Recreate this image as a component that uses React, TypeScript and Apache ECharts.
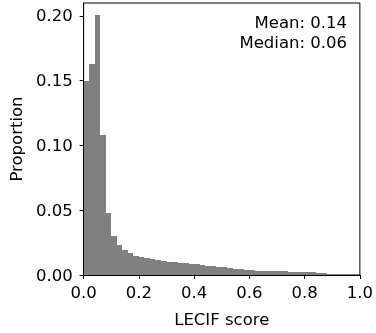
import React, { useEffect, useRef } from "react";
import * as echarts from "echarts";

const binWidth = 0.02;
const proportions = [
  0.1495, 0.163, 0.2008, 0.108, 0.048, 0.0302, 0.0233, 0.0192, 0.0167, 0.0149,
  0.0136, 0.0128, 0.0123, 0.0115, 0.011, 0.0103, 0.0098, 0.0094, 0.009, 0.0086,
  0.0082, 0.0077, 0.0072, 0.0067, 0.0062, 0.0058, 0.0054, 0.005, 0.0046, 0.0042,
  0.0037, 0.0034, 0.0032, 0.003, 0.0029, 0.0028, 0.0028, 0.0027, 0.0027, 0.0026,
  0.0025, 0.0022, 0.0018, 0.0013, 0.0008, 0.0004, 0.0001, 0, 0, 0,
];
const xTicks = [0, 0.2, 0.4, 0.6, 0.8, 1.0];
const yTicks = [0, 0.05, 0.1, 0.15, 0.2];
const statLines = ["Mean: 0.14", "Median: 0.06"];

const FONT = "DejaVu Sans";
const FS = 16.5;

export default function App() {
  const ref = useRef<HTMLDivElement>(null);
  useEffect(() => {
    if (!ref.current) return;
    const chart = echarts.init(ref.current, null, { renderer: "svg" });
    const data = proportions.map((v, i) => [i * binWidth, (i + 1) * binWidth, v]);
    chart.setOption({
      animation: false,
      grid: {
        left: 81,
        right: 14,
        top: 3,
        bottom: 57,
        show: true,
        borderColor: "#000",
        borderWidth: 1,
        backgroundColor: "transparent",
      },
      xAxis: {
        type: "value",
        min: 0,
        max: 1,
        interval: 0.2,
        splitLine: { show: false },
        axisLine: { show: true, lineStyle: { color: "#000", width: 1 } },
        axisTick: { show: true, length: 4, lineStyle: { color: "#000" }, customValues: xTicks },
        axisLabel: {
          color: "#000",
          fontFamily: FONT,
          fontSize: FS,
          margin: 9,
          customValues: xTicks,
          formatter: (v: number) => v.toFixed(1),
        },
        name: "LECIF score",
        nameLocation: "middle",
        nameGap: 36,
        nameTextStyle: { color: "#000", fontFamily: FONT, fontSize: FS },
      },
      yAxis: {
        type: "value",
        min: 0,
        max: 0.21,
        splitLine: { show: false },
        axisLine: { show: true, lineStyle: { color: "#000", width: 1 } },
        axisTick: { show: true, length: 4, lineStyle: { color: "#000" }, customValues: yTicks },
        axisLabel: {
          color: "#000",
          fontFamily: FONT,
          fontSize: FS,
          margin: 11,
          customValues: yTicks,
          formatter: (v: number) => v.toFixed(2),
        },
        name: "Proportion",
        nameLocation: "middle",
        nameGap: 56,
        nameTextStyle: { color: "#000", fontFamily: FONT, fontSize: FS },
      },
      series: [
        {
          type: "custom",
          data,
          clip: true,
          renderItem: (params: any, api: any) => {
            const p0 = api.coord([api.value(0), api.value(2)]);
            const p1 = api.coord([api.value(1), 0]);
            const x0 = Math.round(p0[0]);
            const x1 = Math.round(p1[0]);
            const yTop = Math.round(p0[1]);
            const yBot = p1[1];
            return {
              type: "rect",
              shape: { x: x0, y: yTop, width: x1 - x0, height: yBot - yTop },
              style: { fill: "#808080" },
            };
          },
        },
      ],
      graphic: statLines.map((t, i) => ({
        type: "text",
        right: 29,
        top: 14 + i * 20,
        style: { text: t, fill: "#000", font: `${FS}px "${FONT}"`, textAlign: "right" },
        z: 10,
      })),
    });
    return () => chart.dispose();
  }, []);
  return (
    <div
      ref={ref}
      style={{ position: "fixed", left: 0, top: 0, width: 376, height: 333 }}
    />
  );
}
